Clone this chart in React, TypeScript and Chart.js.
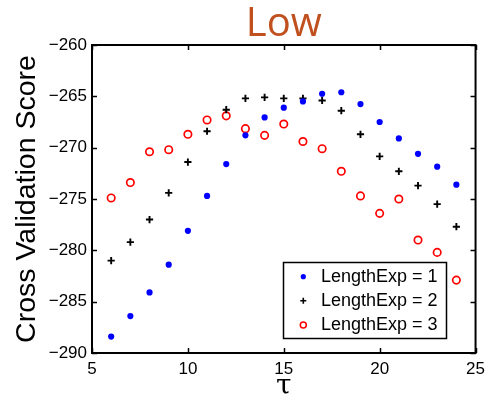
import React, { useEffect, useRef } from "react";
import { Chart, registerables } from "chart.js";

Chart.register(...registerables);

// ---- data ----
const tau = [6, 7, 8, 9, 10, 11, 12, 13, 14, 15, 16, 17, 18, 19, 20, 21, 22, 23, 24];
const lengthExp1 = [-288.4, -286.4, -284.1, -281.4, -278.1, -274.7, -271.6, -268.8, -267.05, -266.1, -265.5, -264.75, -264.6, -265.75, -267.5, -269.1, -270.6, -271.85, -273.6];
const lengthExp2 = [-281.0, -279.2, -277.0, -274.4, -271.4, -268.4, -266.3, -265.2, -265.1, -265.2, -265.2, -265.4, -266.4, -268.7, -270.85, -272.3, -273.7, -275.5, -277.7];
const lengthExp3 = [-274.9, -273.4, -270.4, -270.2, -268.7, -267.3, -266.9, -268.15, -268.8, -267.7, -269.4, -270.1, -272.3, -274.7, -276.4, -275.0, -279.0, -280.2, -282.9];
const seriesLabels = ["LengthExp = 1", "LengthExp = 2", "LengthExp = 3"];
const xTickValues = [5, 10, 15, 20, 25];
const yTickValues = [-290, -285, -280, -275, -270, -265, -260];
const titleText = "Low";
const xTitle = "τ";
const yTitle = "Cross Validation Score";

const toPoints = (ys: number[]) => tau.map((x, i) => ({ x, y: ys[i] }));

const fmt = (v: number) => (v < 0 ? "\u2212" + Math.abs(v) : String(v));

const framePlugin = {
  id: "frame",
  afterDatasetsDraw(chart: any) {
    const { ctx, chartArea: a, scales } = chart;
    ctx.save();
    ctx.strokeStyle = "#000";
    ctx.lineWidth = 2;
    ctx.strokeRect(a.left, a.top, a.right - a.left, a.bottom - a.top);
    ctx.lineWidth = 1.5;
    const tl = 5;
    ctx.beginPath();
    for (const v of xTickValues) {
      const px = Math.round(scales.x.getPixelForValue(v)) + 0.5;
      ctx.moveTo(px, a.bottom);
      ctx.lineTo(px, a.bottom - tl);
      ctx.moveTo(px, a.top);
      ctx.lineTo(px, a.top + tl);
    }
    for (const v of yTickValues) {
      const py = Math.round(scales.y.getPixelForValue(v)) + 0.5;
      ctx.moveTo(a.left, py);
      ctx.lineTo(a.left + tl, py);
      ctx.moveTo(a.right, py);
      ctx.lineTo(a.right - tl, py);
    }
    ctx.stroke();
    ctx.restore();
  },
};

const legendPlugin = {
  id: "insideLegend",
  afterDraw(chart: any) {
    const { ctx } = chart;
    const box = { left: 283.5, top: 262.5, right: 446.5, bottom: 338.5 };
    ctx.save();
    ctx.fillStyle = "#fff";
    ctx.fillRect(box.left, box.top, box.right - box.left, box.bottom - box.top);
    ctx.strokeStyle = "#000";
    ctx.lineWidth = 1.5;
    ctx.strokeRect(box.left, box.top, box.right - box.left, box.bottom - box.top);
    const rows = [276.7, 300.8, 325];
    const mx = 303.3;
    chart.data.datasets.forEach((ds: any, i: number) => {
      const y = rows[i];
      ctx.beginPath();
      if (ds.pointStyle === "cross") {
        ctx.strokeStyle = ds.borderColor;
        ctx.lineWidth = 1.6;
        ctx.moveTo(mx - 3, y);
        ctx.lineTo(mx + 3, y);
        ctx.moveTo(mx, y - 3);
        ctx.lineTo(mx, y + 3);
        ctx.stroke();
      } else if (ds.backgroundColor === "transparent") {
        ctx.strokeStyle = ds.borderColor;
        ctx.lineWidth = 1.5;
        ctx.arc(mx, y, 3, 0, Math.PI * 2);
        ctx.stroke();
      } else {
        ctx.fillStyle = ds.backgroundColor;
        ctx.arc(mx, y, 2.6, 0, Math.PI * 2);
        ctx.fill();
      }
      ctx.fillStyle = "#000";
      ctx.font = "18px 'Liberation Sans', Arial, sans-serif";
      ctx.textBaseline = "middle";
      ctx.textAlign = "left";
      ctx.fillText(ds.label, 321, y + 0.5);
    });
    ctx.restore();
  },
};

export default function App() {
  const ref = useRef<HTMLCanvasElement | null>(null);

  useEffect(() => {
    document.body.style.margin = "0";
    const canvas = ref.current;
    if (!canvas) return;
    const chart = new Chart(canvas, {
      type: "scatter",
      data: {
        datasets: [
          {
            label: seriesLabels[0],
            data: toPoints(lengthExp1),
            pointStyle: "circle",
            backgroundColor: "#0000ff",
            borderColor: "#0000ff",
            borderWidth: 0,
            pointRadius: 3.1,
          },
          {
            label: seriesLabels[1],
            data: toPoints(lengthExp2),
            pointStyle: "cross",
            backgroundColor: "#000",
            borderColor: "#000",
            borderWidth: 1.9,
            pointRadius: 3.6,
          },
          {
            label: seriesLabels[2],
            data: toPoints(lengthExp3),
            pointStyle: "circle",
            backgroundColor: "transparent",
            borderColor: "#ff0000",
            borderWidth: 1.7,
            pointRadius: 3.7,
          },
        ],
      },
      options: {
        animation: false,
        responsive: false,
        devicePixelRatio: 1,
        layout: { padding: { left: 0, right: 10, top: 0, bottom: 0 } },
        plugins: {
          legend: { display: false },
          tooltip: { enabled: false },
          title: {
            display: true,
            text: titleText,
            fullSize: false,
            color: "#c0501e",
            font: { family: "'Open Sans', sans-serif", size: 40, weight: "normal", lineHeight: 1.0 },
            padding: { top: 5, bottom: 0 },
          },
        },
        scales: {
          x: {
            type: "linear",
            min: 5,
            max: 25,
            afterBuildTicks: (s: any) => {
              s.ticks = xTickValues.map((v) => ({ value: v }));
            },
            afterFit: (s: any) => {
              s.height = 48;
            },
            grid: { display: false, drawTicks: false },
            border: { display: false },
            ticks: {
              color: "#000",
              padding: 6,
              font: { family: "'Liberation Sans', Arial, sans-serif", size: 17 },
              callback: (v: any) => fmt(Number(v)),
              maxRotation: 0,
            },
            title: {
              display: true,
              text: xTitle,
              color: "#000",
              font: { family: "'DejaVu Serif', serif", size: 28, lineHeight: 1 },
              padding: { top: 0, bottom: 0 },
            },
          },
          y: {
            type: "linear",
            min: -290,
            max: -260,
            afterBuildTicks: (s: any) => {
              s.ticks = yTickValues.map((v) => ({ value: v }));
            },
            afterFit: (s: any) => {
              s.width = 92;
            },
            grid: { display: false, drawTicks: false },
            border: { display: false },
            ticks: {
              color: "#000",
              padding: 5,
              font: { family: "'Liberation Sans', Arial, sans-serif", size: 17 },
              callback: (v: any) => fmt(Number(v)),
            },
            title: {
              display: true,
              text: yTitle,
              color: "#000",
              font: { family: "'Liberation Sans', Arial, sans-serif", size: 28.5, lineHeight: 1.2 },
              padding: { top: 10, bottom: 0 },
            },
          },
        },
      },
      plugins: [framePlugin, legendPlugin],
    } as any);
    return () => chart.destroy();
  }, []);

  return (
    <div style={{ width: 491, height: 401, position: "relative", background: "#fff" }}>
      <canvas ref={ref} width={491} height={401} style={{ display: "block", width: 491, height: 401 }} />
    </div>
  );
}
